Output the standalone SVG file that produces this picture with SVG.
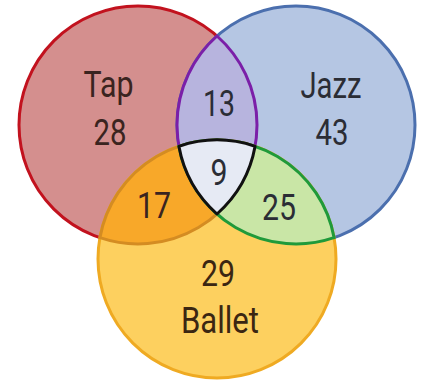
<svg xmlns="http://www.w3.org/2000/svg" width="426" height="381" viewBox="0 0 426 381">
<style>
  .c { stroke-width: 3; }
  .t { font-family: Roboto, "Liberation Sans", sans-serif; font-size: 36px; text-anchor: middle; }
  .warm { fill: #3a2420; }
  .cool { fill: #2b2d35; }
  .gold { fill: #3b2612; }
</style>
<rect width="426" height="381" fill="#ffffff"/>
<g id="tap">
  <circle class="c" cx="138" cy="125" r="119" fill="#d48f8e" stroke="#c2121e"/>
</g>
<g id="jazz">
  <circle class="c" cx="296" cy="125" r="119" fill="#b5c6e3" stroke="#4b6fae"/>
</g>
<g id="ballet">
  <circle class="c" cx="217" cy="259" r="119" fill="#fdd05f" stroke="#efaa22"/>
</g>
<g id="tap-jazz">
  <path class="c" d="M217,36 A119,119 0 0 0 217,214 A119,119 0 0 0 217,36 Z" fill="#b7b4de" stroke="#7b1fa8"/>
</g>
<g id="tap-ballet">
  <path class="c" d="M99.9,237.7 A119,119 0 0 1 255.1,146.3 A119,119 0 0 1 99.9,237.7 Z" fill="#f8a829" stroke="#d48c22"/>
</g>
<g id="jazz-ballet">
  <path class="c" d="M178.9,146.3 A119,119 0 0 1 334.1,237.7 A119,119 0 0 1 178.9,146.3 Z" fill="#c9e6a6" stroke="#1f9a3a"/>
</g>
<g id="all">
  <path class="c" d="M178.9,146.3 A119,119 0 0 1 255.1,146.3 A119,119 0 0 1 217,214 A119,119 0 0 1 178.9,146.3 Z" fill="#e6eaf4" stroke="#111111" stroke-linejoin="round"/>
</g>
<g id="labels">
  <text class="t warm" x="108.5" y="97" textLength="50" lengthAdjust="spacingAndGlyphs">Tap</text>
  <text class="t warm" x="110" y="145" textLength="33" lengthAdjust="spacingAndGlyphs">28</text>
  <text class="t cool" x="331" y="98" textLength="61" lengthAdjust="spacingAndGlyphs">Jazz</text>
  <text class="t cool" x="332" y="145" textLength="33" lengthAdjust="spacingAndGlyphs">43</text>
  <text class="t cool" x="219" y="116" textLength="32" lengthAdjust="spacingAndGlyphs">13</text>
  <text class="t cool" x="219" y="185" textLength="17" lengthAdjust="spacingAndGlyphs">9</text>
  <text class="t warm" x="154" y="218" textLength="34" lengthAdjust="spacingAndGlyphs">17</text>
  <text class="t cool" x="279" y="220" textLength="34" lengthAdjust="spacingAndGlyphs">25</text>
  <text class="t gold" x="218" y="286" textLength="34" lengthAdjust="spacingAndGlyphs">29</text>
  <text class="t gold" x="220" y="333" textLength="78" lengthAdjust="spacingAndGlyphs">Ballet</text>
</g>
</svg>
